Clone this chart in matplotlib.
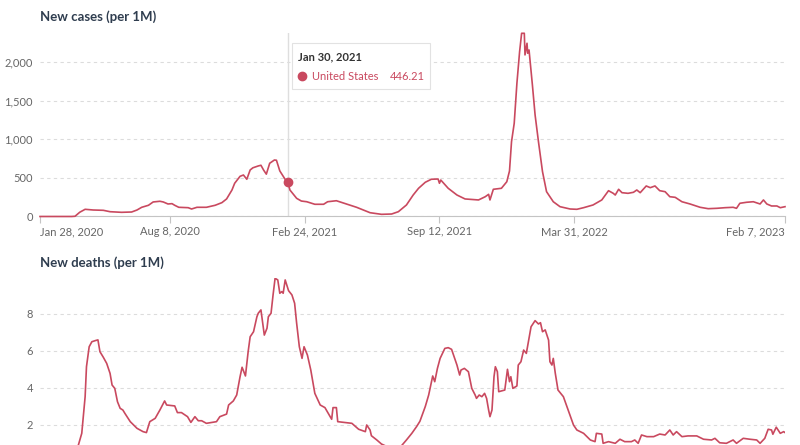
import numpy as np
import pandas as pd
import matplotlib
matplotlib.use('Agg')
import matplotlib.pyplot as plt
from matplotlib.patches import FancyBboxPatch

plt.rcParams['font.family'] = ['Lato', 'DejaVu Sans']

# 数据：距 2020-01-28 的天数与每百万人新增数
start = pd.Timestamp('2020-01-28')
end = pd.Timestamp('2023-02-07')

case_days = [0, 47, 52, 59, 67, 79, 94, 104, 121, 136, 144, 151, 161, 168, 178, 183,
             190, 196, 200, 206, 220, 225, 233, 247, 260, 270, 277, 285, 289, 297,
             302, 307, 312, 316, 324, 328, 332, 336, 341, 348, 351, 356, 364, 368,
             371, 381, 388, 396, 408, 421, 427, 440, 455, 470, 490, 507, 522, 532,
             544, 554, 562, 572, 581, 591, 593, 595, 606, 619, 631, 651, 661, 666,
             668, 673, 685, 693, 697, 700, 704, 708, 712, 715, 719, 720, 723, 724,
             726, 731, 735, 740, 746, 752, 762, 772, 787, 797, 807, 821, 834, 844,
             851, 854, 859, 864, 873, 881, 886, 891, 900, 906, 913, 920, 928, 935,
             943, 953, 965, 980, 992, 1005, 1017, 1029, 1034, 1039, 1049, 1059,
             1069, 1074, 1079, 1086, 1094, 1099, 1106]
case_values = [0, 0, 3, 55, 93, 84, 80, 62, 54, 58, 84, 119, 145, 188, 197, 188,
               162, 166, 145, 119, 114, 97, 119, 119, 145, 179, 227, 343, 430, 520,
               537, 482, 602, 630, 654, 663, 600, 548, 689, 731, 728, 590, 480, 446.21,
               343, 235, 200, 191, 158, 158, 191, 204, 162, 119, 49, 28, 32, 62,
               149, 278, 365, 443, 482, 485, 430, 472, 365, 278, 227, 214, 256, 287,
               214, 352, 365, 450, 589, 968, 1206, 1724, 2133, 2371, 2371, 2091, 2242, 2113,
               2155, 1702, 1314, 968, 580, 321, 191, 127, 97, 93, 114, 149, 214, 334,
               300, 278, 352, 308, 300, 313, 343, 308, 395, 373, 395, 334, 321, 256,
               248, 191, 162, 119, 101, 106, 114, 119, 106, 171, 184, 191,
               162, 214, 162, 136, 136, 114, 127]

death_days = [0, 39, 48, 53, 57, 62, 67, 69, 73, 77, 82, 86, 89, 94, 99, 104, 107,
              111, 115, 119, 123, 126, 134, 144, 153, 158, 163, 171, 178, 185, 188,
              200, 204, 210, 219, 224, 230, 235, 240, 247, 262, 267, 277, 280, 287,
              292, 297, 300, 305, 309, 312, 317, 322, 324, 328, 330, 333, 337, 339,
              343, 346, 349, 353, 356, 359, 361, 364, 369, 374, 378, 381, 385, 389,
              392, 397, 402, 408, 416, 423, 428, 433, 435, 440, 442, 453, 463, 473,
              483, 485, 490, 492, 500, 507, 517, 527, 536, 544, 552, 559, 564, 572,
              577, 583, 586, 590, 594, 601, 606, 611, 619, 623, 625, 630, 636, 641,
              646, 648, 652, 656, 660, 663, 666, 668, 671, 674, 676, 679, 681, 690,
              694, 697, 699, 702, 708, 710, 714, 718, 722, 725, 729, 735, 740, 743,
              746, 750, 755, 757, 760, 762, 765, 769, 777, 784, 792, 797, 807, 817,
              824, 826, 834, 836, 844, 854, 861, 868, 878, 883, 888, 893, 901, 911,
              920, 928, 935, 940, 945, 953, 962, 975, 985, 997, 1002, 1009, 1019,
              1029, 1034, 1044, 1054, 1064, 1069, 1076, 1081, 1086, 1088, 1093,
              1099, 1104, 1106]
death_values = [0, 0, 0.2, 0.6, 0.92, 1.55, 3.53, 5.15, 6.23, 6.5, 6.56, 6.6, 5.96,
                5.66, 5.33, 4.79, 4.16, 3.98, 3.26, 2.9, 2.81, 2.63, 2.18, 1.82, 1.64,
                1.59, 2.18, 2.36, 2.81, 3.3, 3.08, 3.03, 2.67, 2.67, 2.45, 2.14, 2.45,
                2.23, 2.23, 2.09, 2.18, 2.45, 2.59, 3.08, 3.3, 3.62, 4.61, 5.12, 4.65,
                5.96, 6.77, 7.04, 7.85, 8.04, 8.22, 7.68, 6.86, 7.23, 7.85, 8.04, 9.03,
                9.93, 9.84, 9.12, 9.21, 9.12, 9.84, 9.26, 9.03, 8.58, 7.5, 6.23, 5.6,
                6.23, 5.78, 4.97, 3.71, 3.08, 2.94, 2.63, 2.31, 2.94, 2.94, 2.18, 2.13,
                2.09, 1.77, 1.64, 2.0, 1.73, 1.42, 1.19, 0.97, 0.8, 0.75, 0.85, 1.19,
                1.55, 1.91, 2.2, 3.0, 3.62, 4.65, 4.34, 5.06, 5.6, 6.14, 6.18, 6.09,
                5.24, 4.7, 4.97, 5.06, 4.88, 3.98, 3.62, 3.44, 3.62, 3.53, 3.71, 3.44,
                2.81, 2.45, 2.81, 4.61, 5.15, 4.88, 3.8, 3.89, 5.01, 4.34, 4.61, 3.98,
                4.11, 5.24, 5.42, 6.05, 5.87, 6.5, 7.31, 7.64, 7.46, 7.53, 7.04, 7.14,
                6.59, 5.42, 5.24, 5.6, 4.79, 3.89, 3.53, 2.81, 2.0, 1.73, 1.55, 1.19,
                1.1, 1.55, 1.51, 1.01, 1.1, 1.01, 1.23, 1.1, 1.1, 1.19, 1.01, 1.46,
                1.37, 1.37, 1.51, 1.46, 1.73, 1.46, 1.64, 1.37, 1.41, 1.41, 1.23, 1.19,
                1.28, 1.04, 1.01, 1.19, 1.01, 1.28, 1.23, 1.19, 1.01, 1.28, 1.77, 1.73,
                1.5, 1.88, 1.55, 1.64, 1.59]

tick_dates = ['2020-01-28', '2020-08-08', '2021-02-24', '2021-09-12', '2022-03-31', '2023-02-07']
tick_labels = ['Jan 28, 2020', 'Aug 8, 2020', 'Feb 24, 2021', 'Sep 12, 2021', 'Mar 31, 2022', 'Feb 7, 2023']
case_ticks = [0, 500, 1000, 1500, 2000]
case_tick_labels = ['0', '500', '1,000', '1,500', '2,000']
death_ticks = [2, 4, 6, 8]

hover_date = pd.Timestamp('2021-01-30')
hover_value = 446.21
hover_country = 'United States'

LINE = '#c9495f'
TITLE = '#2f3d4f'
TICK = '#666666'
GRID = '#dcdcdc'

case_dates = (start + pd.to_timedelta(case_days, unit='D')).to_pydatetime()
death_dates = (start + pd.to_timedelta(death_days, unit='D')).to_pydatetime()

fig = plt.figure(figsize=(8, 4.45), dpi=100)
fig.patch.set_facecolor('white')

ax1 = fig.add_axes([0.05, 0.5135, 0.93125, 0.4124])
ax2 = fig.add_axes([0.05, -0.0382, 0.93125, 0.4137])

for ax in (ax1, ax2):
    for s in ax.spines.values():
        s.set_visible(False)
    ax.set_xlim(start.to_pydatetime(), end.to_pydatetime())
    ax.yaxis.grid(True, linestyle=(0, (3, 3)), color=GRID, linewidth=0.8)
    ax.set_axisbelow(True)
    ax.tick_params(axis='y', length=0, pad=5, labelsize=8, labelcolor=TICK)

# 新增病例
ax1.axvline(hover_date.to_pydatetime(), color='#dedede', lw=1, zorder=1)
ax1.plot(case_dates, case_values, color=LINE, lw=1.2, zorder=3, clip_on=False)
ax1.plot([hover_date.to_pydatetime()], [hover_value], 'o', color=LINE, ms=6, zorder=4)
ax1.set_ylim(0, 2375)
ax1.set_yticks(case_ticks)
ax1.set_yticklabels(case_tick_labels)
ax1.spines['bottom'].set_visible(True)
ax1.spines['bottom'].set_color('#c4c4c4')
ax1.set_xticks(pd.to_datetime(tick_dates).to_pydatetime())
ax1.set_xticklabels(tick_labels)
ax1.tick_params(axis='x', length=5, color='#c4c4c4', labelsize=8, labelcolor=TICK, pad=2)
xt = ax1.get_xticklabels()
xt[0].set_ha('left')
xt[-1].set_ha('right')

# 新增死亡
ax2.plot(death_dates, death_values, color=LINE, lw=1.2, zorder=3)
ax2.set_ylim(0, 9.95)
ax2.set_yticks(death_ticks)
ax2.set_yticklabels([str(t) for t in death_ticks])
ax2.tick_params(axis='x', bottom=False, labelbottom=False)

fig.text(0.05, 1 - 17 / 445, 'New cases (per 1M)', ha='left', va='center',
         fontsize=9.5, fontweight='bold', color=TITLE)
fig.text(0.05, 1 - 263 / 445, 'New deaths (per 1M)', ha='left', va='center',
         fontsize=9.5, fontweight='bold', color=TITLE)

# 悬浮提示框
shadow = FancyBboxPatch((293 / 800, 1 - 90 / 445), 138 / 800, 46 / 445,
                        boxstyle='square,pad=0', transform=fig.transFigure,
                        facecolor='#ececec', edgecolor='none', zorder=5)
box = FancyBboxPatch((292 / 800, 1 - 89 / 445), 138 / 800, 46 / 445,
                     boxstyle='square,pad=0', transform=fig.transFigure,
                     facecolor='white', edgecolor='#e2e2e2', lw=0.8, zorder=6)
fig.patches.extend([shadow, box])
fig.text(298 / 800, 1 - 57 / 445, hover_date.strftime('%b %d, %Y'), ha='left', va='center',
         fontsize=8, fontweight='bold', color='#333333', zorder=7)
fig.text(312 / 800, 1 - 76 / 445, hover_country, ha='left', va='center',
         fontsize=8, color=LINE, zorder=7)
fig.text(425 / 800, 1 - 76 / 445, f'{hover_value:.2f}', ha='right', va='center',
         fontsize=8, color=LINE, zorder=7)
fig.add_artist(plt.Line2D([302 / 800], [1 - 76 / 445], marker='o', ms=6, color=LINE,
                          transform=fig.transFigure, zorder=7))

fig.savefig('out.png', dpi=100)
